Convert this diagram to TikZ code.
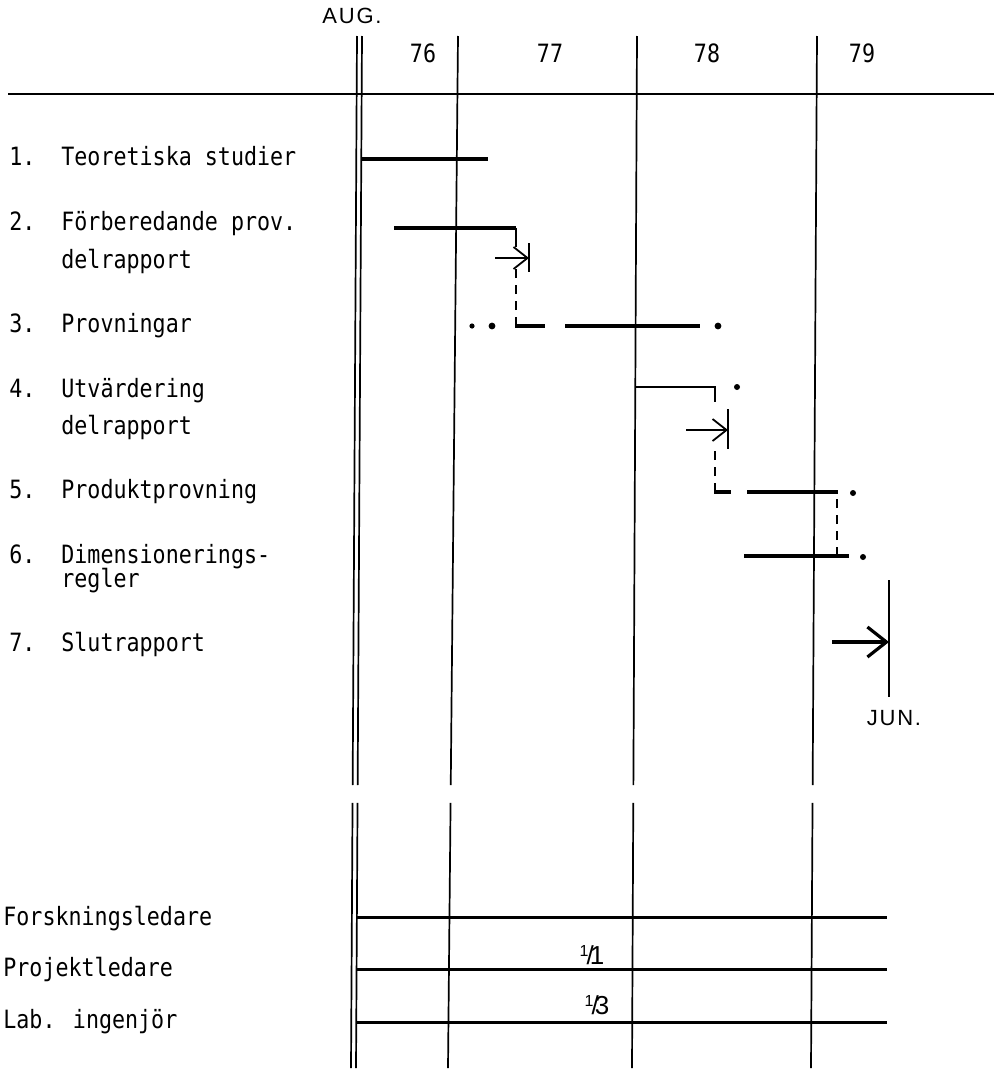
\documentclass[tikz,border=0pt]{standalone}
\usepackage{fontspec}
\setmainfont[FakeStretch=0.86]{DejaVu Sans Mono}
\newfontfamily\handfont[LetterSpace=8]{Liberation Sans}
\usetikzlibrary{arrows.meta,calc}

\begin{document}
\begin{tikzpicture}[x=0.5pt, y=-0.5pt, >={Straight Barb[length=7pt,width=11pt]},
  txt/.style={anchor=base west, inner sep=0pt, font=\fontsize{12.6}{14}\selectfont},
  year/.style={anchor=base, inner sep=0pt, font=\fontsize{12.6}{14}\selectfont},
  hand/.style={inner sep=0pt, font=\handfont\fontsize{11}{12}\selectfont},
  grid/.style={line width=0.85pt},
  bar/.style={line width=2pt},
  link/.style={line width=0.9pt, dash pattern=on 4.5pt off 3.5pt},
  tick/.style={line width=0.9pt}]
  \fill[white] (0,0) rectangle (996,1071);
  \useasboundingbox (0,0) rectangle (996,1071);

  % time axis
  \draw[line width=0.7pt] (8,94) -- (994,94);
  \foreach \xt/\xb in {357/351, 362/356, 458/448, 637/632, 817/811}{
    \draw[grid] (\xt,36) -- ($(\xt,36)!0.7258!(\xb,1068)$);
    \draw[grid] ($(\xt,36)!0.7432!(\xb,1068)$) -- (\xb,1068);
  }
  \node[hand] (aug) at (352,16) {AUG.};
  \node[year] (y76) at (423,62) {76};
  \node[year] (y77) at (550,62) {77};
  \node[year] (y78) at (707,62) {78};
  \node[year] (y79) at (862,62) {79};

  % activities
  \node[txt] (n1) at (9,165) {1.};  \node[txt] (a1) at (61,165) {Teoretiska studier};
  \node[txt] (n2) at (9,230) {2.};  \node[txt] (a2) at (61,230) {Förberedande prov.};
  \node[txt] (a2b) at (61,268) {delrapport};
  \node[txt] (n3) at (9,332) {3.};  \node[txt] (a3) at (61,332) {Provningar};
  \node[txt] (n4) at (9,397) {4.};  \node[txt] (a4) at (61,397) {Utvärdering};
  \node[txt] (a4b) at (61,434) {delrapport};
  \node[txt] (n5) at (9,498) {5.};  \node[txt] (a5) at (61,498) {Produktprovning};
  \node[txt] (n6) at (9,563) {6.};  \node[txt] (a6) at (61,563) {Dimensionerings-};
  \node[txt] (a6b) at (61,587) {regler};
  \node[txt] (n7) at (9,651) {7.};  \node[txt] (a7) at (61,651) {Slutrapport};

  % bars
  \draw[bar] (362,159) -- (488,159);
  \draw[bar] (394,228) -- (516,228);
  \draw[tick] (516,228) -- (516,247);
  \draw[->, tick] (495,258) -- (529,258);
  \draw[tick] (529,243) -- (529,272);
  \draw[link] (516,326) -- (516,268);
  \draw[bar] (515,326) -- (545,326);
  \draw[bar] (565,326) -- (700,326);
  \fill (472,326) circle (1.3pt);
  \fill (492,326) circle (1.7pt);
  \fill (718,326) circle (1.7pt);

  \draw[line width=1.4pt] (635,387) -- (715,387) -- (715,402);
  \fill (737,387) circle (1.5pt);
  \draw[->, tick] (686,430) -- (728,430);
  \draw[tick] (728,409) -- (728,449);
  \draw[link] (715,492) -- (715,447);
  \draw[bar] (714,492) -- (731,492);
  \draw[bar] (747,492) -- (838,492);
  \fill (853,493) circle (1.5pt);
  \draw[link] (837,556) -- (837,493);
  \draw[bar] (744,556) -- (849,556);
  \fill (863,557) circle (1.5pt);

  \draw[-{Straight Barb[length=9.5pt,width=15pt]}, line width=1.6pt] (832,642) -- (889,642);
  \draw[tick] (889,580) -- (889,697);
  \node[hand] (jun) at (894,718) {JUN.};

  % staff
  \node[txt] (s1) at (3,925) {Forskningsledare};
  \node[txt] (s2) at (3,976) {Projektledare};
  \node[txt] (s3) at (3,1028) {Lab. ingenjör};
  \draw[line width=1.5pt] (356,917) -- (887,917);
  \draw[line width=1.5pt] (356,969) -- (887,969);
  \draw[line width=1.5pt] (356,1022) -- (887,1022);
  \node[hand, font=\handfont\fontsize{13}{13}\selectfont] (f1) at (592,955)
    {\raisebox{4pt}{\fontsize{8}{8}\selectfont 1}\kern-1pt/\kern-2pt1};
  \node[hand, font=\handfont\fontsize{13}{13}\selectfont] (f2) at (597,1005)
    {\raisebox{4pt}{\fontsize{8}{8}\selectfont 1}\kern-1pt/\kern-2pt3};
\end{tikzpicture}
\end{document}
